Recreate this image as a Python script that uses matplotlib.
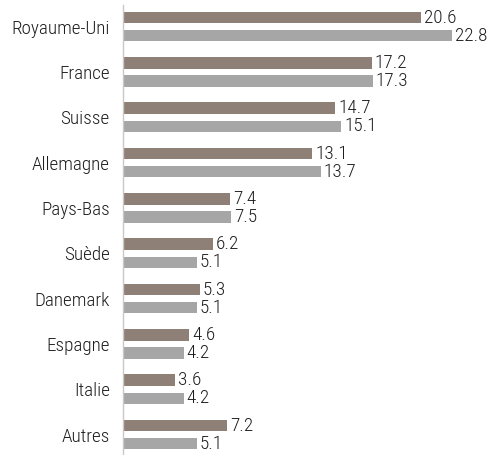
import matplotlib
matplotlib.use('Agg')
import matplotlib.pyplot as plt
import numpy as np

plt.rcParams['font.family'] = ['Roboto Condensed', 'Archivo Narrow', 'DejaVu Sans']

countries = ['Royaume-Uni', 'France', 'Suisse', 'Allemagne', 'Pays-Bas',
             'Suède', 'Danemark', 'Espagne', 'Italie', 'Autres']
serie_a = [20.6, 17.2, 14.7, 13.1, 7.4, 6.2, 5.3, 4.6, 3.6, 7.2]
serie_b = [22.8, 17.3, 15.1, 13.7, 7.5, 5.1, 5.1, 4.2, 4.2, 5.1]

COL_A = '#8e8077'
COL_B = '#a6a6a6'
TXT = '#1e1e1e'
FS = 13.8

fig = plt.figure(figsize=(4.9, 4.55), dpi=100)
ax = fig.add_axes([123 / 490, 0, 367 / 490, 1 - 5 / 455])

y = np.arange(len(countries))
h = 0.255
off = 0.2
ax.barh(y - off, serie_a, height=h, color=COL_A)
ax.barh(y + off, serie_b, height=h, color=COL_B)

for yi, a, b in zip(y, serie_a, serie_b):
    ax.text(a + 0.2, yi - off, f'{a:.1f}', va='center', ha='left', fontsize=FS,
            color=TXT, fontweight='light')
    ax.text(b + 0.2, yi + off, f'{b:.1f}', va='center', ha='left', fontsize=FS,
            color=TXT, fontweight='light')

ax.set_xlim(0, 367 / 14.45)
ax.set_ylim(9.45, -0.476)
ax.set_yticks(y)
ax.set_yticklabels(countries, fontsize=FS, color=TXT, fontweight='light')
ax.tick_params(axis='y', length=0, pad=9.5)
ax.set_xticks([])
for s in ['top', 'right', 'bottom']:
    ax.spines[s].set_visible(False)
ax.spines['left'].set_color('#c8c8c8')
ax.spines['left'].set_linewidth(1)

plt.savefig('out.png', dpi=100)
